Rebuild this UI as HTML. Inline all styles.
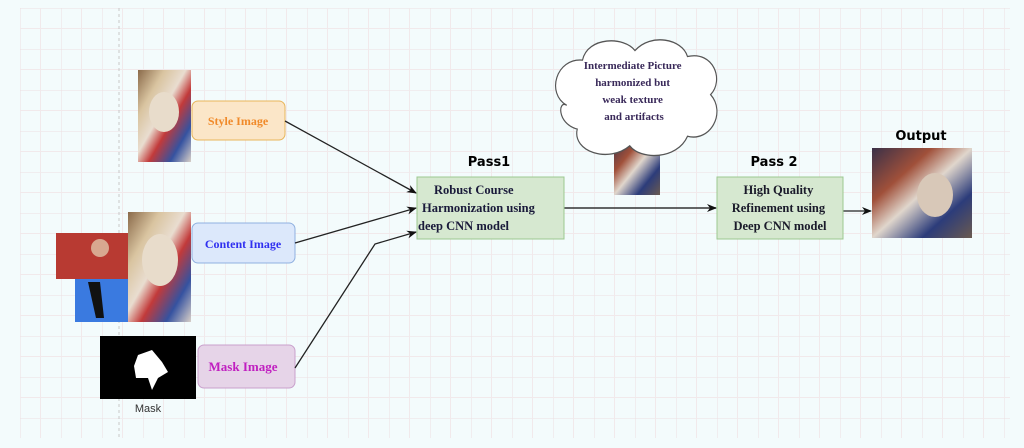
<!DOCTYPE html>
<html><head><meta charset="utf-8"><style>
html,body{margin:0;padding:0;background:#f3fbfc;}
svg{display:block}
.s{font-family:"Liberation Serif",serif;}
.c{font-family:"DejaVu Sans","Liberation Sans",sans-serif;font-weight:bold;}
</style></head><body>
<svg width="1024" height="448" viewBox="0 0 1024 448" xmlns="http://www.w3.org/2000/svg">
<defs>
<pattern id="g" x="20" y="8" width="41" height="41" patternUnits="userSpaceOnUse">
<path d="M0 0H41M0 0V41" stroke="#ecdfe2" stroke-width="1" fill="none"/>
<path d="M20.5 0V41M0 20.5H41" stroke="#f1e9eb" stroke-width="1" fill="none"/>
</pattern>
<linearGradient id="p" x1="0" y1="0" x2="1" y2="1">
<stop offset="0" stop-color="#8a6a4a"/><stop offset="0.25" stop-color="#d9c4a0"/><stop offset="0.45" stop-color="#e9ddd0"/><stop offset="0.6" stop-color="#c23a3a"/><stop offset="0.8" stop-color="#3552a0"/><stop offset="1" stop-color="#d9d0c8"/>
</linearGradient>
<linearGradient id="p2" x1="0" y1="0" x2="1" y2="1">
<stop offset="0" stop-color="#3a3048"/><stop offset="0.3" stop-color="#a0503a"/><stop offset="0.5" stop-color="#e0d6cc"/><stop offset="0.75" stop-color="#2c3c7a"/><stop offset="1" stop-color="#6a5a50"/>
</linearGradient>
<marker id="a" markerWidth="10" markerHeight="10" refX="9" refY="5" orient="auto" markerUnits="userSpaceOnUse"><path d="M0 1L10 5L0 9L3 5Z" fill="#111"/></marker>
</defs>
<rect x="20" y="8" width="990" height="430" fill="url(#g)"/>
<line x1="119" y1="8" x2="119" y2="440" stroke="#c8c8c8" stroke-dasharray="3,3"/>

<!-- style -->
<rect x="138" y="70" width="53" height="92" fill="url(#p)"/>
<ellipse cx="164" cy="112" rx="15" ry="20" fill="#e8dccb"/>
<rect x="192" y="101" width="93" height="39" rx="6" fill="#fbe6c8" stroke="#e8b55a"/>
<text x="238" y="125" class="s" font-size="12" font-weight="bold" fill="#f08a2a" text-anchor="middle">Style Image</text>

<!-- content -->
<rect x="128" y="212" width="63" height="110" fill="url(#p)"/>
<ellipse cx="160" cy="260" rx="18" ry="26" fill="#e8dccb"/>
<rect x="56" y="233" width="72" height="46" fill="#b83a32"/>
<circle cx="100" cy="248" r="9" fill="#d8a890"/>
<rect x="75" y="279" width="53" height="43" fill="#3a7ae0"/>
<path d="M88 282 L100 282 L104 318 L96 318 Z" fill="#111"/>
<rect x="192" y="223" width="103" height="40" rx="6" fill="#dce8fb" stroke="#8fb0e0"/>
<text x="243" y="248" class="s" font-size="12" font-weight="bold" fill="#3030f0" text-anchor="middle">Content Image</text>

<!-- mask -->
<rect x="100" y="336" width="96" height="63" fill="#000"/>
<path d="M138 355 L152 350 L162 362 L168 372 L158 378 L152 390 L148 378 L136 378 L134 366 Z" fill="#fff"/>
<text x="148" y="412" font-family="Liberation Sans,sans-serif" font-size="11" fill="#333" text-anchor="middle">Mask</text>
<rect x="198" y="345" width="97" height="43" rx="6" fill="#e6d4e8" stroke="#c9a0cc"/>
<text x="243" y="371" class="s" font-size="13" font-weight="bold" fill="#c020c0" text-anchor="middle">Mask Image</text>

<!-- arrows -->
<line x1="285" y1="121" x2="416" y2="193" stroke="#222" stroke-width="1.3" marker-end="url(#a)"/>
<line x1="295" y1="243" x2="416" y2="208" stroke="#222" stroke-width="1.3" marker-end="url(#a)"/>
<path d="M295 368 L375 244 L416 232" stroke="#222" stroke-width="1.3" fill="none" marker-end="url(#a)"/>
<line x1="564" y1="208" x2="716" y2="208" stroke="#333" stroke-width="1.6" marker-end="url(#a)"/>
<line x1="843" y1="211" x2="871" y2="211" stroke="#222" stroke-width="1.3" marker-end="url(#a)"/>

<!-- pass1 -->
<text x="489" y="166" class="c" font-size="13" text-anchor="middle">Pass1</text>
<rect x="417" y="177" width="147" height="62" fill="#d6e8d0" stroke="#9cc890"/>
<text class="s" font-size="12.5" font-weight="bold" fill="#1a1a3a">
<tspan x="434" y="194">Robust Course</tspan>
<tspan x="422" y="212">Harmonization using</tspan>
<tspan x="418" y="230">deep CNN model</tspan></text>

<!-- intermediate -->
<rect x="614" y="138" width="46" height="57" fill="url(#p2)"/>
<g transform="translate(635,97) scale(1.05,1.19) translate(-640,-83)">
<path d="M635 90 m-60 0 c-20 -10 -10 -40 15 -38 c5 -20 40 -20 50 -8 c15 -15 45 -10 50 5 c25 -5 35 20 22 32 c15 15 0 40 -22 35 c-10 20 -45 20 -55 8 c-20 15 -55 5 -50 -14 c-20 -5 -18 -25 -10 -20 Z" fill="#fff" stroke="#555" stroke-width="1.1"/>
</g>
<text class="s" font-size="11" font-weight="bold" fill="#3a2a5a" text-anchor="middle">
<tspan x="634" y="69">Intermediate Picture</tspan>
<tspan x="634" y="86">harmonized but</tspan>
<tspan x="634" y="103">weak texture</tspan>
<tspan x="634" y="120">and artifacts</tspan></text>

<!-- pass2 -->
<text x="774" y="166" class="c" font-size="13" text-anchor="middle">Pass 2</text>
<rect x="717" y="177" width="126" height="62" fill="#d6e8d0" stroke="#9cc890"/>
<text class="s" font-size="12.5" font-weight="bold" fill="#1a1a2a" text-anchor="middle">
<tspan x="780" y="194">High Quality</tspan>
<tspan x="780" y="212">Refinement using</tspan>
<tspan x="780" y="230">Deep CNN model</tspan></text>

<!-- output -->
<text x="921" y="140" class="c" font-size="13" text-anchor="middle">Output</text>
<rect x="872" y="148" width="100" height="90" fill="url(#p2)"/>
<ellipse cx="935" cy="195" rx="18" ry="22" fill="#d8c8b8"/>
</svg>
</body></html>
